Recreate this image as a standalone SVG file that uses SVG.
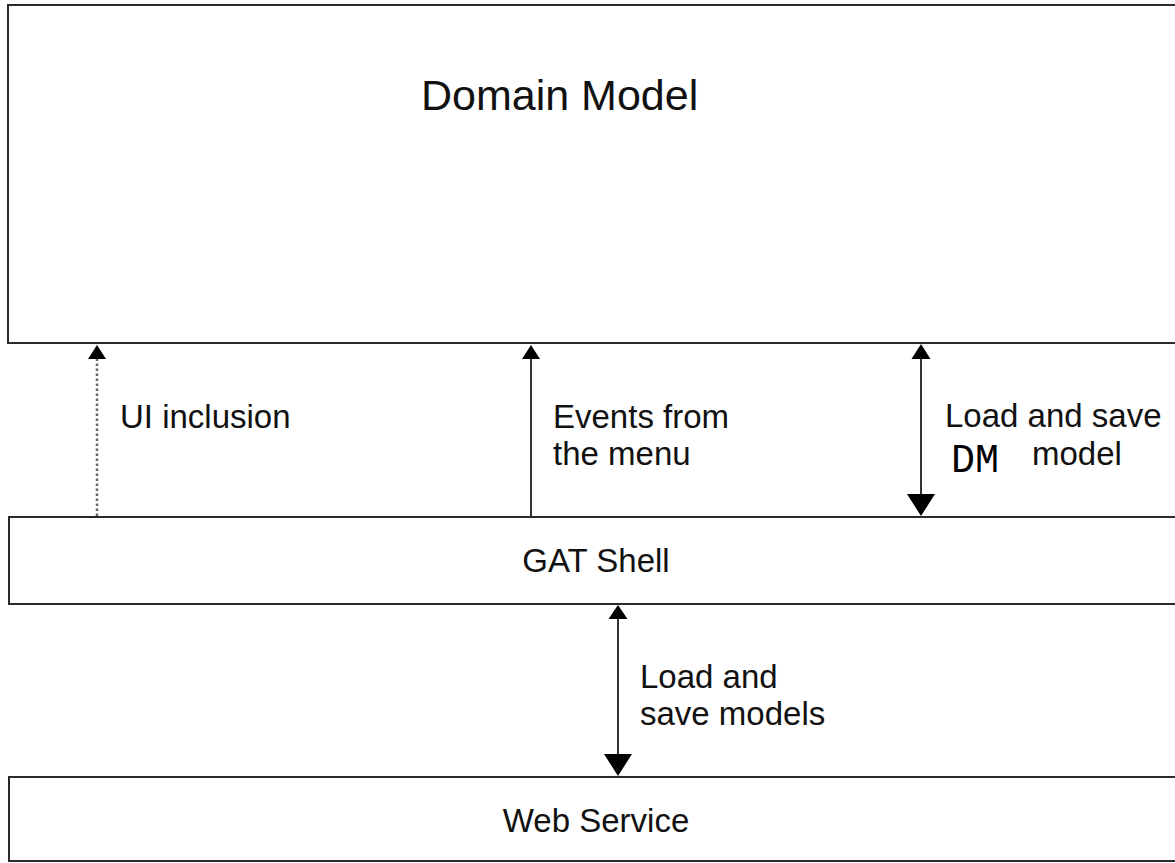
<svg xmlns="http://www.w3.org/2000/svg" width="1175" height="863" viewBox="0 0 1175 863">
<style>
.box{fill:#fff;stroke:#2a2a2a;stroke-width:2}
.t{font-family:"Liberation Sans",Arial,sans-serif;font-size:33px;fill:#111}
.line{stroke:#333;stroke-width:2;fill:none}
.dot{stroke:#666;stroke-width:2.5;fill:none;stroke-dasharray:2.5 2.5}
.head{fill:#000}
</style>
<rect width="1175" height="863" fill="#fff"/>
<g id="domain-model">
<rect class="box" x="8" y="5" width="1200" height="338"/>
<text class="t" x="421" y="110" style="font-size:43px">Domain Model</text>
</g>
<g id="gat-shell">
<rect class="box" x="9" y="517" width="1200" height="87"/>
<text class="t" x="596" y="572" text-anchor="middle">GAT Shell</text>
</g>
<g id="web-service">
<rect class="box" x="9" y="777" width="1200" height="84"/>
<text class="t" x="596" y="832" text-anchor="middle">Web Service</text>
</g>
<g id="connectors">
<line class="dot" x1="97" y1="516" x2="97" y2="358"/>
<polygon class="head" points="97,345 88,359 106,359"/>
<text class="t" x="120" y="428">UI inclusion</text>

<line class="line" x1="531" y1="516" x2="531" y2="358"/>
<polygon class="head" points="531,345 522,359 540,359"/>
<text class="t" x="553" y="428">Events from</text>
<text class="t" x="553" y="465">the menu</text>

<line class="line" x1="921" y1="358" x2="921" y2="495"/>
<polygon class="head" points="921,344 911.5,359 930.5,359"/>
<polygon class="head" points="921,516 907,494 935,494"/>
<text class="t" x="945" y="427">Load and save</text>
<text class="t" x="1032" y="465">model</text>
<text x="951" y="472" style="font-family:'Liberation Mono','Courier New',monospace;font-size:40px;font-weight:normal;fill:#000">DM</text>

<line class="line" x1="618" y1="618" x2="618" y2="755"/>
<polygon class="head" points="618,605 608.5,619 627.5,619"/>
<polygon class="head" points="618,776 604,754 632,754"/>
<text class="t" x="640" y="688">Load and</text>
<text class="t" x="640" y="725">save models</text>
</g>
</svg>
